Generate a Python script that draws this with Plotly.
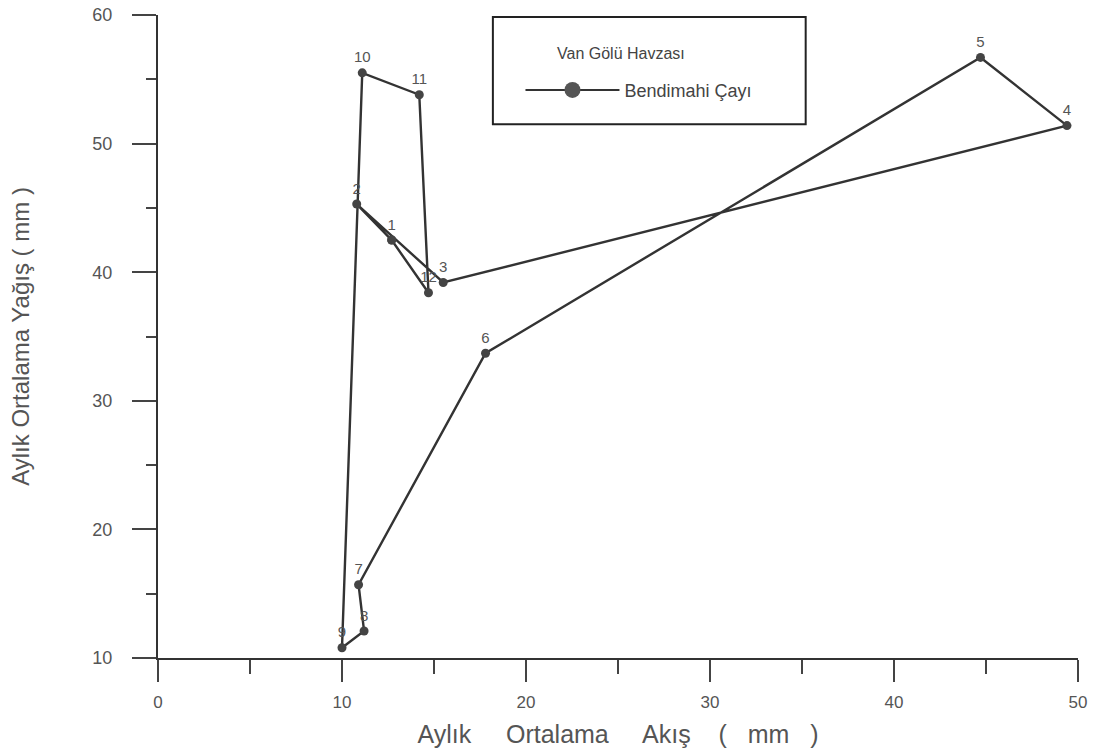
import plotly.graph_objects as go

months = ["1", "2", "3", "4", "5", "6", "7", "8", "9", "10", "11", "12"]
akis = [12.7, 10.8, 15.5, 49.4, 44.7, 17.8, 10.9, 11.2, 10.0, 11.1, 14.2, 14.7]
yagis = [42.5, 45.3, 39.2, 51.4, 56.7, 33.7, 15.7, 12.1, 10.8, 55.5, 53.8, 38.4]

x_ticks = [0, 10, 20, 30, 40, 50]
y_ticks = [10, 20, 30, 40, 50, 60]

series_name = "Bendimahi Çayı"
legend_title = "Van Gölü Havzası"
x_title = "Aylık     Ortalama     Akış    (   mm   )"
y_title = "Aylık Ortalama Yağış ( mm )"

FONT = "Liberation Sans, Arial, sans-serif"

# close the annual loop (December back to January)
xs = akis + [akis[0]]
ys = yagis + [yagis[0]]
labels = months + [""]

fig = go.Figure()
fig.add_trace(go.Scatter(
    x=xs, y=ys, mode="lines+markers+text",
    text=labels, textposition="top center",
    textfont=dict(family=FONT, size=15, color="#555"),
    line=dict(color="#333", width=2.4),
    marker=dict(color="#444", size=9),
    name=series_name, legendgroup="a", showlegend=False,
    cliponaxis=False,
))
# legend entry (larger symbol as in the original)
fig.add_trace(go.Scatter(
    x=[None], y=[None], mode="lines+markers",
    line=dict(color="#333", width=2),
    marker=dict(color="#555", size=16),
    name=series_name, legendgroup="a", showlegend=True,
))

# legend frame and heading
fig.add_shape(type="rect", xref="paper", yref="paper",
              x0=0.364, x1=0.704, y0=0.830, y1=0.997,
              line=dict(color="#222", width=2), fillcolor="white", layer="below")
fig.add_annotation(text=legend_title, xref="paper", yref="paper",
                   x=0.503, y=0.940, showarrow=False, xanchor="center", yanchor="middle",
                   font=dict(family=FONT, size=16, color="#444"))

fig.update_layout(
    width=1098, height=751,
    margin=dict(l=158, r=20, t=15, b=93, autoexpand=False),
    paper_bgcolor="white", plot_bgcolor="white",
    font=dict(family=FONT, color="#555"),
    showlegend=True,
    legend=dict(
        x=0.394, y=0.883, xanchor="left", yanchor="middle",
        bgcolor="rgba(0,0,0,0)", borderwidth=0,
        font=dict(family=FONT, size=18, color="#444"),
        itemwidth=94,
        itemsizing="trace",
    ),
    xaxis=dict(
        range=[0, 50], tickvals=x_ticks, ticktext=[str(v) for v in x_ticks],
        showgrid=False, zeroline=False, automargin=False,
        showline=True, linecolor="#333", linewidth=2,
        ticks="outside", ticklen=22, tickwidth=2, tickcolor="#444",
        minor=dict(dtick=5, ticks="outside", ticklen=14, tickwidth=2, tickcolor="#444", showgrid=False),
        tickfont=dict(family=FONT, size=17, color="#555"),
        ticklabelstandoff=6,
        title=dict(text=x_title, font=dict(family=FONT, size=25, color="#555"), standoff=14),
    ),
    yaxis=dict(
        range=[10, 60], tickvals=y_ticks, ticktext=[str(v) for v in y_ticks],
        showgrid=False, zeroline=False, automargin=False,
        showline=True, linecolor="#333", linewidth=2,
        ticks="outside", ticklen=24, tickwidth=2, tickcolor="#444",
        minor=dict(dtick=5, ticks="outside", ticklen=10, tickwidth=2, tickcolor="#444", showgrid=False),
        tickfont=dict(family=FONT, size=18, color="#555"),
        ticklabelstandoff=16,
        title=dict(text=y_title, font=dict(family=FONT, size=24, color="#555"), standoff=56),
    ),
)

fig.write_html("out.html")
